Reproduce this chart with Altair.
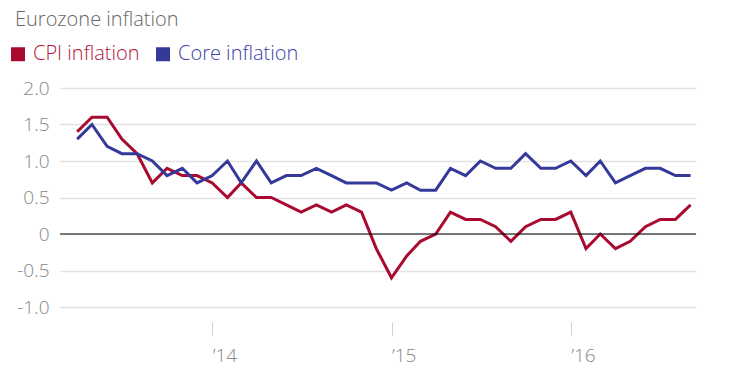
import altair as alt
import pandas as pd

# Monthly readings (Apr 2013 – Sep 2016), % y/y
months = pd.date_range("2013-04-01", "2016-09-01", freq="MS").strftime("%Y-%m-%d").tolist()
cpi = [1.4, 1.6, 1.6, 1.3, 1.1, 0.7, 0.9, 0.8, 0.8, 0.7, 0.5, 0.7, 0.5, 0.5, 0.4,
       0.3, 0.4, 0.3, 0.4, 0.3, -0.2, -0.6, -0.3, -0.1, 0.0, 0.3, 0.2, 0.2, 0.1,
       -0.1, 0.1, 0.2, 0.2, 0.3, -0.2, 0.0, -0.2, -0.1, 0.1, 0.2, 0.2, 0.4]
core = [1.3, 1.5, 1.2, 1.1, 1.1, 1.0, 0.8, 0.9, 0.7, 0.8, 1.0, 0.7, 1.0, 0.7, 0.8,
        0.8, 0.9, 0.8, 0.7, 0.7, 0.7, 0.6, 0.7, 0.6, 0.6, 0.9, 0.8, 1.0, 0.9,
        0.9, 1.1, 0.9, 0.9, 1.0, 0.8, 1.0, 0.7, 0.8, 0.9, 0.9, 0.8, 0.8]
series_names = ["CPI inflation", "Core inflation"]
series_colors = ["#a90a30", "#34399a"]
y_ticks = [-1.0, -0.5, 0.0, 0.5, 1.0, 1.5, 2.0]
year_ticks = [2014, 2015, 2016]

df = pd.concat([
    pd.DataFrame({"date": months, "value": cpi, "series": series_names[0]}),
    pd.DataFrame({"date": months, "value": core, "series": series_names[1]}),
])

FONT = "Open Sans"

x_enc = alt.X(
    "date:T",
    scale=alt.Scale(
        type="utc",
        domain=[alt.DateTime(year=2013, month=2, date=25, utc=True),
                alt.DateTime(year=2016, month=9, date=12, utc=True)],
    ),
    axis=alt.Axis(
        values=[alt.DateTime(year=y, month=1, date=1, utc=True) for y in year_ticks],
        labelExpr="'\u2019' + utcFormat(datum.value, '%y')",
        grid=False, domain=False, offset=15, tickSize=14, tickColor="#d0d0d0",
        tickWidth=1, labelAlign="left", labelPadding=10, labelFontSize=19,
        labelColor="#888888", labelFont=FONT, labelFontWeight=300, title=None,
    ),
)

y_scale = alt.Scale(domain=[-1.0, 2.0], nice=False, zero=False)
y_axis = alt.Axis(
    values=y_ticks,
    labelExpr="datum.value == 0 ? '0' : (datum.value < 0 ? '-' + format(-datum.value, '.1f') : format(datum.value, '.1f'))",
    grid=True, gridColor="#e2e2e2", gridWidth=1.5, domain=False, ticks=False,
    labelOverlap=False, labelBound=False,
    labelPadding=11, labelFontSize=19, labelColor="#888888", labelFont=FONT,
    labelFontWeight=300, title=None,
)

lines = alt.Chart(df).mark_line(strokeWidth=3, strokeJoin="miter").encode(
    x=x_enc,
    y=alt.Y("value:Q", scale=y_scale, axis=y_axis),
    color=alt.Color(
        "series:N",
        scale=alt.Scale(domain=series_names, range=series_colors),
        sort=series_names,
        legend=alt.Legend(
            orient="none", legendX=-52, legendY=-44, direction="horizontal",
            title=None, symbolType="square", symbolSize=49, symbolStrokeWidth=7,
            labelFontSize=20, labelFont=FONT, labelFontWeight=300,
            labelColor=alt.ExprRef(expr="datum.value == 'CPI inflation' ? '#b0143a' : '#3d43a3'"),
            labelOffset=5, columnPadding=5,
        ),
    ),
)

zero = alt.Chart(pd.DataFrame({"value": [0.0]})).mark_rule(color="#000000", strokeWidth=1.2).encode(
    y=alt.Y("value:Q", scale=y_scale, axis=y_axis)
)

chart = alt.layer(lines, zero).properties(
    width=636,
    height=219,
    autosize=alt.AutoSizeParams(type="none"),
    padding={"left": 52, "top": 80, "right": 29, "bottom": 77},
    title=alt.TitleParams(
        "Eurozone inflation", anchor="start", fontSize=20, font=FONT, fontWeight=300,
        color="#666666", dx=7, offset=14,
    ),
).configure_view(stroke=None).configure_axis(labelOverlap=False)

chart.save("out.html", embed_options={"renderer": "svg", "actions": False})
